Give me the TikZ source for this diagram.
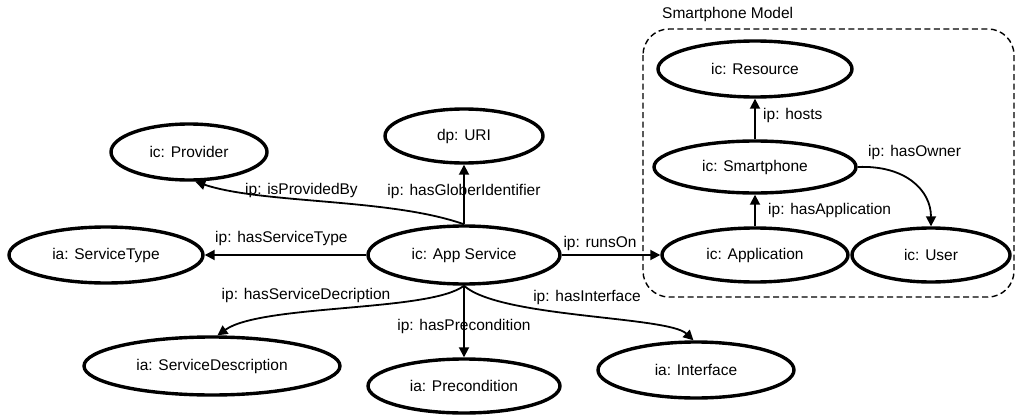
\documentclass[tikz,border=0pt]{standalone}
\usepackage{fontspec}
\setmainfont{Liberation Sans}
\usetikzlibrary{shapes.geometric,arrows.meta}
\tikzset{
  ent/.style={ellipse,draw,line width=3.4pt,inner sep=0pt,font=\fontsize{15.5}{18}\selectfont},
  lbl/.style={inner sep=0pt,font=\fontsize{15.5}{18}\selectfont},
  arr/.style={line width=1.8pt,-{Triangle[length=10pt,width=10pt]}},
  group/.style={draw,line width=1.4pt,dash pattern=on 6pt off 3.5pt,rounded corners=26pt}
}
\begin{document}
\begin{tikzpicture}[x=1pt,y=-1pt]
\useasboundingbox (0,0) rectangle (1018,415);
% group box
\draw[group] (643,29) rectangle (1014,297);
\node[lbl,anchor=west] (smlabel) at (662,14) {Smartphone Model};
% entities
\node[ent,minimum width=194pt,minimum height=56pt] (res) at (755,69) {ic: Resource};
\node[ent,minimum width=202pt,minimum height=52pt] (sp) at (755,167) {ic: Smartphone};
\node[ent,minimum width=186pt,minimum height=54pt] (app) at (755,255) {ic: Application};
\node[ent,minimum width=158pt,minimum height=54pt] (user) at (931,255) {ic: User};
\node[ent,minimum width=156pt,minimum height=56pt] (prov) at (189,152) {ic: Provider};
\node[ent,minimum width=158pt,minimum height=54pt] (uri) at (464,136) {dp: URI};
\node[ent,minimum width=194pt,minimum height=56pt] (st) at (106,255) {ia: ServiceType};
\node[ent,minimum width=192pt,minimum height=58pt] (as) at (464,255) {ic: App Service};
\node[ent,minimum width=256pt,minimum height=58pt] (sd) at (212,366) {ia: ServiceDescription};
\node[ent,minimum width=192pt,minimum height=54pt] (pre) at (464,386) {ia: Precondition};
\node[ent,minimum width=196pt,minimum height=56pt] (intf) at (696,370) {ia: Interface};
% connectors
\draw[arr] (sp) -- (res);
\draw[arr] (app) -- (sp);
\draw[arr] (sp.east) .. controls (905,165) and (931,190) .. (user.north);
\draw[arr] (as) -- (app);
\draw[arr] (as) -- (uri);
\draw[arr] (as) -- (st);
\draw[arr] (as) -- (pre);
\draw[arr] (as.north) .. controls (390,198) and (262,204) .. (prov.-78);
\draw[arr] (as.south) .. controls (430,312) and (262,304) .. (sd.80);
\draw[arr] (as.south) .. controls (500,318) and (668,316) .. (intf.95);
% labels
\node[lbl,anchor=west] (lhosts) at (763,115) {ip: hosts};
\node[lbl,anchor=west] (lhasapp) at (768,210) {ip: hasApplication};
\node[lbl,anchor=west] (lowner) at (868,152) {ip: hasOwner};
\node[lbl] (lruns) at (600,243) {ip: runsOn};
\node[lbl] (lglob) at (464,191) {ip: hasGloberIdentifier};
\node[lbl,anchor=west] (lprov) at (245,190) {ip: isProvidedBy};
\node[lbl,anchor=west] (lst) at (215,238) {ip: hasServiceType};
\node[lbl] (lsd) at (306,295) {ip: hasServiceDecription};
\node[lbl] (lpre) at (464,326) {ip: hasPrecondition};
\node[lbl] (lint) at (587,297) {ip: hasInterface};
\end{tikzpicture}
\end{document}
